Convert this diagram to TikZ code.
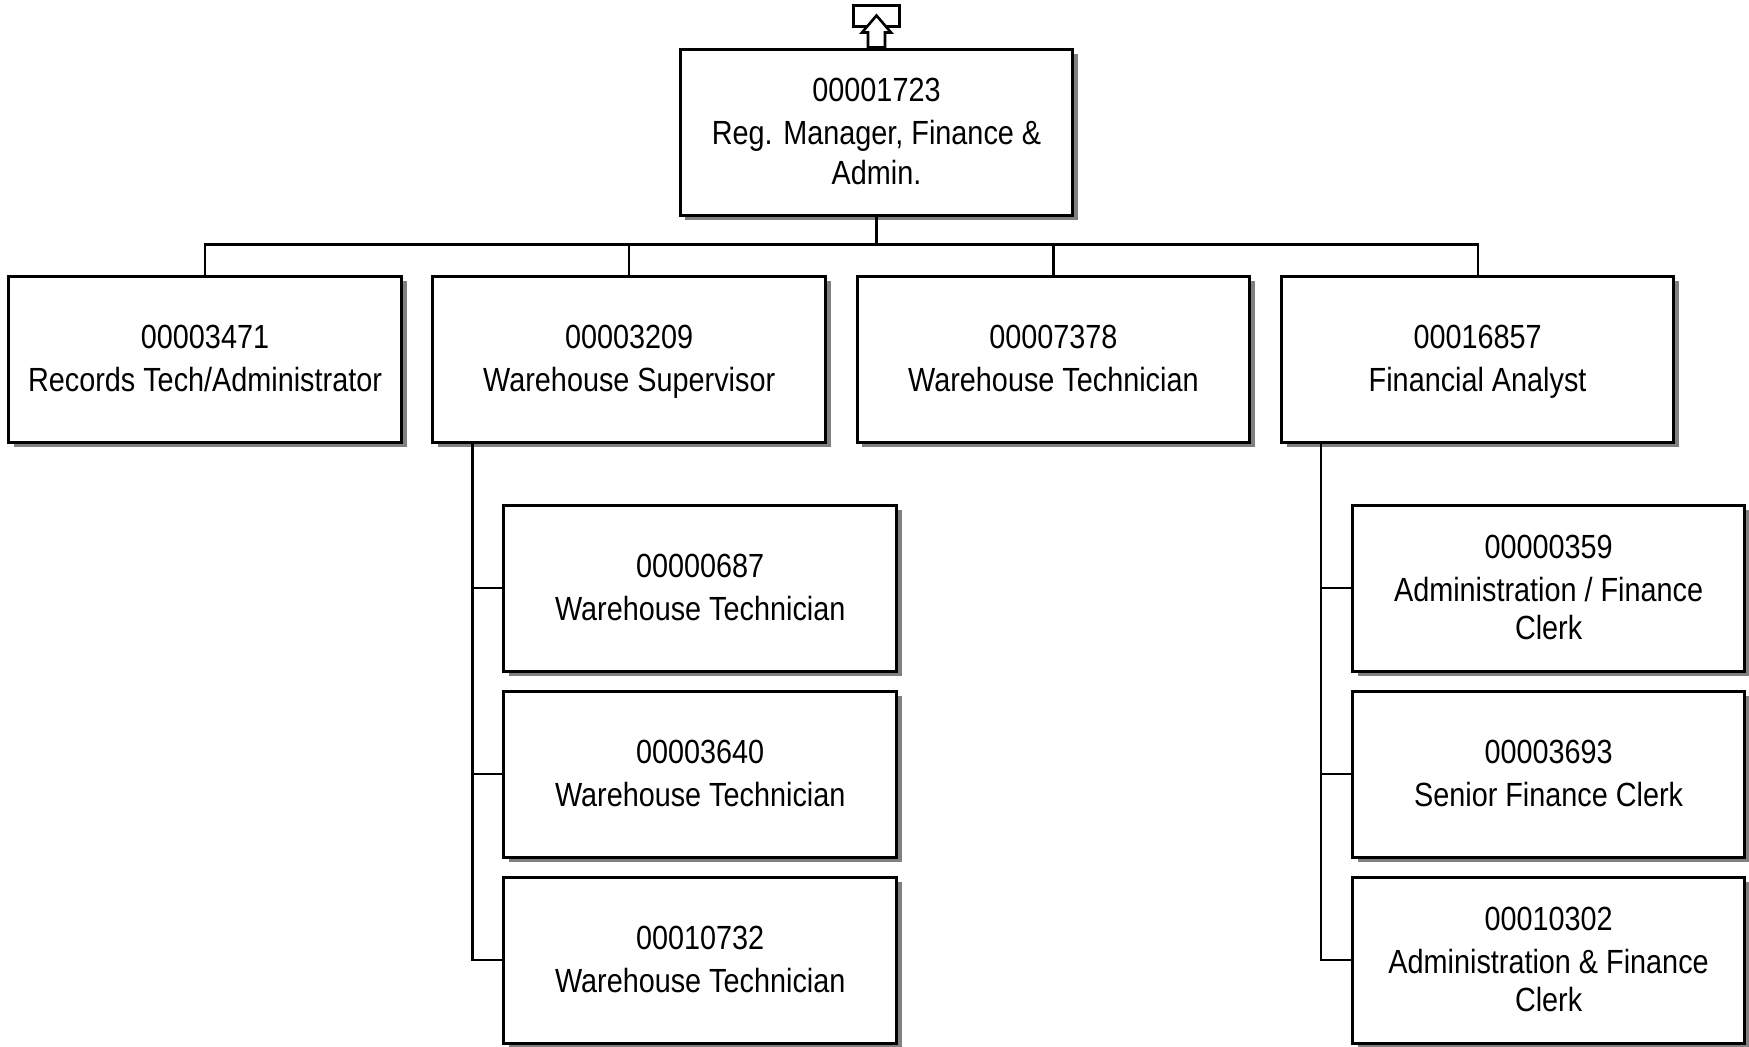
\documentclass[tikz,border=0pt]{standalone}
\usepackage{fontspec}
\setmainfont{Liberation Sans}[FakeStretch=0.86]
\usetikzlibrary{positioning,shadows}
\tikzset{
    post/.style={
           rectangle,
           draw=black, line width=1.5pt,
           fill=white,
           minimum width=196.3pt,
           minimum height=83pt,
           inner sep=3pt,
           align=center,
           text depth=0.8pt,
           font=\fontsize{16.75}{21.5}\selectfont,
           drop shadow={shadow xshift=2.6pt, shadow yshift=-2.6pt, fill=black!50, opacity=1},
           },
    link/.style={
           draw=black, line width=1.1pt,
           },
}

\begin{document}
\begin{tikzpicture}
    \useasboundingbox (0,0) rectangle (874.5pt,-523pt);

    % head of the unit
    \node[post] (boss) at (438.25pt,-66pt)
    {00001723\\Reg. Manager, Finance \&\\[-1.5pt]Admin.};

    % link to the level above
    \node[draw, line width=1.5pt,
    minimum width=23pt, minimum height=10.5pt,
    inner sep=0pt,
    above=10pt of boss] (uplink) {};
    \draw[line width=1.3pt, fill=white]
        ([xshift=-4.25pt]boss.north) -- ++(0,7.5pt) -- ++(-3pt,0)
        -- ++(7.25pt,8.5pt) -- ++(7.25pt,-8.5pt) -- ++(-3pt,0)
        -- ++(0,-7.5pt) -- cycle;

    % first row
    \node[post] (recs) at (102.5pt,-179.5pt)
    {00003471\\Records Tech/Administrator};

    \node[post,
    right=14.3pt of recs] (ware)
    {00003209\\Warehouse Supervisor};

    \node[post,
    right=14.3pt of ware] (wtech)
    {00007378\\Warehouse Technician};

    \node[post,
    right=14.3pt of wtech] (fin)
    {00016857\\Financial Analyst};

    % staff below the supervisor
    \node[post,
    below=30pt of ware.south west, anchor=north west, xshift=35.5pt] (wt1)
    {00000687\\Warehouse Technician};

    \node[post, below=8.5pt of wt1] (wt2)
    {00003640\\Warehouse Technician};

    \node[post, below=8.5pt of wt2] (wt3)
    {00010732\\Warehouse Technician};

    % staff below the analyst
    \node[post,
    below=30pt of fin.south west, anchor=north west, xshift=35.5pt] (fc1)
    {00000359\\Administration / Finance\\[-2.5pt]Clerk};

    \node[post, below=8.5pt of fc1] (fc2)
    {00003693\\Senior Finance Clerk};

    \node[post, below=8.5pt of fc2] (fc3)
    {00010302\\Administration \& Finance\\[-2.5pt]Clerk};

    % the bus under the head
    \draw[link] (boss.south) -- ++(0,-14pt) coordinate (bus);
    \draw[link] (recs.north) |- (bus);
    \draw[link] (ware.north) |- (bus);
    \draw[link] (wtech.north) |- (bus);
    \draw[link] (fin.north) |- (bus);

    % the two spines
    \coordinate (wspine) at ([xshift=20.5pt]ware.south west);
    \draw[link] (wspine) |- (wt1.west);
    \draw[link] (wspine) |- (wt2.west);
    \draw[link] (wspine) |- (wt3.west);

    \coordinate (fspine) at ([xshift=20.5pt]fin.south west);
    \draw[link] (fspine) |- (fc1.west);
    \draw[link] (fspine) |- (fc2.west);
    \draw[link] (fspine) |- (fc3.west);
\end{tikzpicture}
\end{document}
